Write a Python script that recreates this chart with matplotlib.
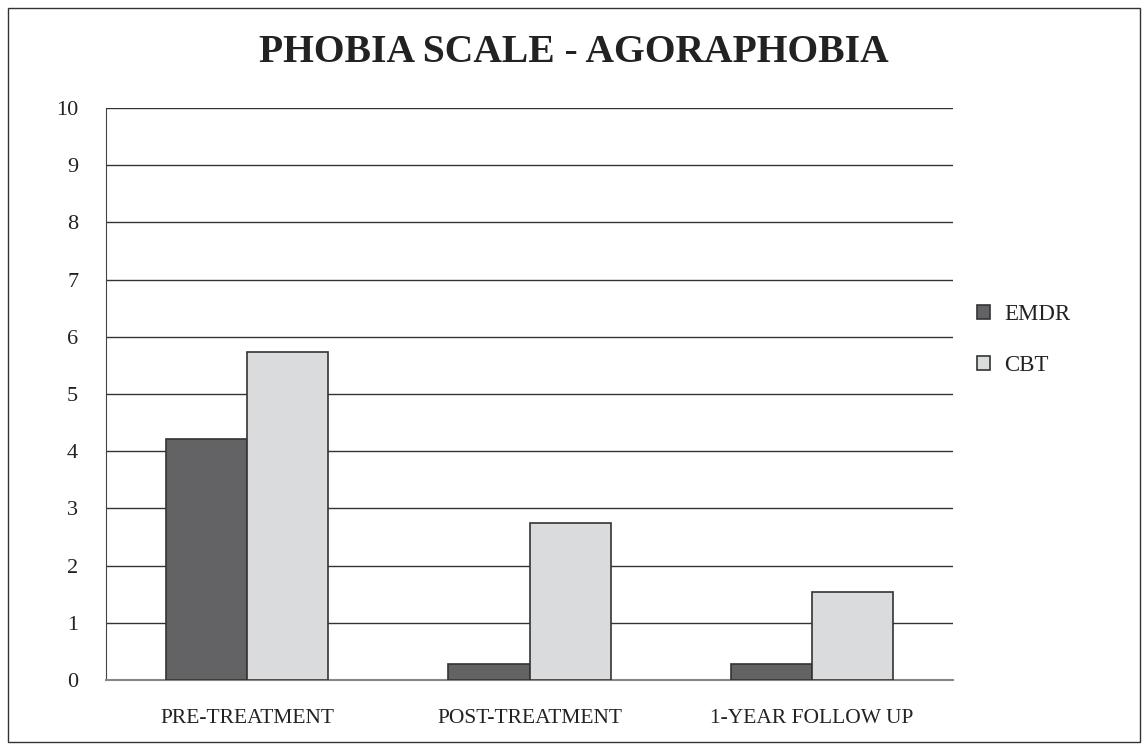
import matplotlib
matplotlib.use("Agg")
import matplotlib.pyplot as plt
import numpy as np
from matplotlib.patches import Rectangle

categories = ["PRE-TREATMENT", "POST-TREATMENT", "1-YEAR FOLLOW UP"]
emdr = [4.21, 0.28, 0.28]
cbt = [5.73, 2.74, 1.53]
yticks = list(range(0, 11))

plt.rcParams['font.family'] = ['Liberation Serif', 'DejaVu Serif']

fig = plt.figure(figsize=(11.48, 7.5), dpi=100)
ax = fig.add_axes([106/1148, 1-680/750, (953-106)/1148, (680-108)/750])

x = np.arange(len(categories))
w = 0.287
ax.bar(x - w/2, emdr, w, color="#636365", edgecolor="#333333", linewidth=1.2, label="EMDR", zorder=3)
ax.bar(x + w/2, cbt, w, color="#dadbdd", edgecolor="#333333", linewidth=1.2, label="CBT", zorder=3)

ax.set_xlim(-0.5, 2.5)
ax.set_ylim(0, 10)
ax.set_yticks(yticks)
ax.set_yticklabels([str(t) for t in yticks], fontsize=16, color="#222222")
ax.set_xticks(x)
ax.set_xticklabels(categories, fontsize=15.5, color="#222222")
ax.tick_params(axis='both', length=0)
ax.tick_params(axis='y', pad=20)
ax.tick_params(axis='x', pad=21)
ax.yaxis.grid(True, color="#333333", linewidth=1.0, zorder=0)
ax.set_axisbelow(True)
for s in ["top", "right"]:
    ax.spines[s].set_visible(False)
ax.spines["left"].set_color("#444444")
ax.spines["bottom"].set_color("#888888")
ax.spines["bottom"].set_linewidth(1.5)

fig.text(0.5, 1-52/750, "PHOBIA SCALE - AGORAPHOBIA", ha="center", va="center",
         fontsize=28.5, fontweight="bold", color="#222222")

leg = fig.legend(loc="center left", bbox_to_anchor=(956/1148, 1-340/750), frameon=False,
                 fontsize=16.5, handlelength=0.6, handleheight=0.6, labelspacing=1.3,
                 handletextpad=0.6)
for t in leg.get_texts():
    t.set_color("#222222")

fig.patches.append(Rectangle((8/1148, 8/750), 1-16/1148, 1-16/750, transform=fig.transFigure,
                             fill=False, edgecolor="#333333", linewidth=1.0))

fig.savefig("out.png", dpi=100)
